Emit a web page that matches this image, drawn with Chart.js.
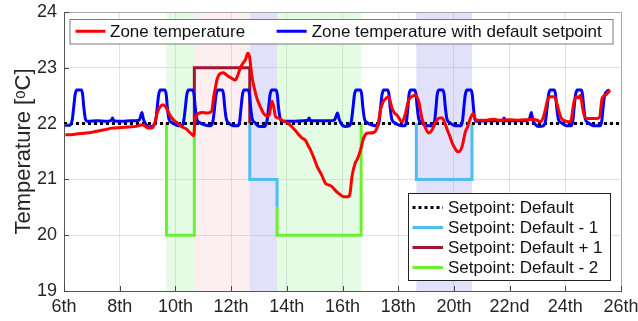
<!DOCTYPE html>
<html>
<head>
<meta charset="utf-8">
<script src="https://cdn.jsdelivr.net/npm/chart.js@4.4.1/dist/chart.umd.min.js"></script>
<style>
  html, body { margin: 0; padding: 0; background: #fff; }
  #wrap { width: 638px; height: 321px; }
</style>
</head>
<body>
<div id="wrap"><canvas id="tempChart"></canvas></div>
<script>
// Ejes
const xTicks = [6, 8, 10, 12, 14, 16, 18, 20, 22, 24, 26];
const xTickLabels = ['6th', '8th', '10th', '12th', '14th', '16th', '18th', '20th', '22nd', '24th', '26th'];
const yTicks = [19, 20, 21, 22, 23, 24];

// Periodos con consigna modificada [inicio, fin] (día)
const minus2Periods = [[9.68, 10.68], [13.65, 16.67]];
const plus1Periods = [[10.68, 12.67]];
const minus1Periods = [[12.67, 13.65], [18.65, 20.65]];

// Temperatura de zona [día, °C]
const zoneTemp = [
  [6.05, 21.8], [6.2, 21.8], [6.5, 21.82], [6.8, 21.83], [7.14, 21.86], [7.45, 21.89], [7.74, 21.92],
  [8.05, 21.93], [8.34, 21.94], [8.6, 21.95], [8.81, 21.98], [8.9, 21.96], [9.0, 21.92], [9.17, 21.92],
  [9.28, 22.05], [9.35, 22.2], [9.45, 22.3], [9.55, 22.34], [9.65, 22.3], [9.77, 22.18], [9.87, 22.1],
  [9.95, 22.06], [10.1, 22.0], [10.25, 21.94], [10.4, 21.9], [10.5, 21.85], [10.61, 21.8], [10.66, 21.78],
  [10.7, 22.05], [10.78, 22.16], [10.96, 22.2], [11.14, 22.19], [11.3, 22.22], [11.38, 22.5], [11.44, 22.65],
  [11.5, 22.8], [11.62, 22.9], [11.73, 22.91], [11.86, 22.86], [12.0, 22.82], [12.15, 22.78], [12.25, 22.88],
  [12.33, 23.0], [12.45, 23.1], [12.51, 23.14], [12.6, 23.26], [12.66, 23.2], [12.75, 22.84], [12.85, 22.6],
  [12.93, 22.45], [13.05, 22.3], [13.17, 22.18], [13.3, 22.14], [13.37, 22.15], [13.42, 22.3], [13.47, 22.4],
  [13.53, 22.3], [13.6, 22.12], [13.7, 22.1], [13.83, 22.06], [14.0, 22.02], [14.13, 21.97], [14.3, 21.88],
  [14.43, 21.8], [14.55, 21.74], [14.67, 21.7], [14.77, 21.6], [14.85, 21.53], [15.0, 21.35], [15.09, 21.23],
  [15.25, 21.08], [15.39, 20.93], [15.5, 20.9], [15.6, 20.88], [15.75, 20.8], [15.86, 20.75], [16.04, 20.69],
  [16.2, 20.69], [16.27, 20.75], [16.34, 21.05], [16.46, 21.3], [16.52, 21.35], [16.6, 21.45], [16.66, 21.55],
  [16.76, 21.74], [16.85, 21.82], [16.94, 21.83], [17.12, 21.84], [17.24, 21.92], [17.3, 22.05], [17.36, 22.24],
  [17.47, 22.4], [17.6, 22.47], [17.66, 22.48], [17.78, 22.27], [17.9, 22.17], [17.96, 22.15], [18.14, 22.03],
  [18.26, 22.18], [18.35, 22.38], [18.41, 22.45], [18.55, 22.5], [18.62, 22.51], [18.7, 22.45], [18.74, 22.39],
  [18.85, 22.1], [18.92, 22.0], [19.0, 21.9], [19.1, 21.83], [19.22, 21.89], [19.3, 21.98], [19.4, 22.07],
  [19.5, 22.1], [19.58, 22.1], [19.68, 22.0], [19.76, 21.89], [19.85, 21.78], [19.94, 21.65], [20.05, 21.55],
  [20.12, 21.5], [20.2, 21.5], [20.3, 21.6], [20.41, 21.85], [20.5, 21.95], [20.59, 22.09], [20.69, 22.18],
  [20.75, 22.1], [20.83, 22.06], [21.1, 22.06], [21.43, 22.08], [21.6, 22.06], [22.0, 22.07], [22.3, 22.06],
  [22.6, 22.07], [22.8, 22.08], [22.99, 22.06], [23.1, 22.03], [23.2, 22.1], [23.28, 22.24], [23.36, 22.42],
  [23.46, 22.48], [23.58, 22.48], [23.64, 22.46], [23.72, 22.32], [23.76, 22.24], [23.85, 22.1], [23.94, 22.06],
  [24.18, 22.03], [24.24, 22.15], [24.3, 22.36], [24.36, 22.46], [24.42, 22.48], [24.48, 22.46], [24.54, 22.51],
  [24.6, 22.36], [24.66, 22.18], [24.78, 22.09], [25.08, 22.09], [25.24, 22.12], [25.28, 22.3], [25.32, 22.45],
  [25.44, 22.51], [25.56, 22.57], [25.6, 22.6]
];

// Temperatura de zona con consigna por defecto [día, °C]
const zoneTempDefault = [
  [6.03, 21.97], [6.2, 21.97], [6.29, 22.05], [6.35, 22.3], [6.4, 22.52], [6.46, 22.6], [6.62, 22.6], [6.67, 22.52], [6.71, 22.3], [6.77, 22.08], [6.85, 22.04],
  [7.2, 22.05], [7.5, 22.04], [7.7, 22.06], [7.74, 22.1], [7.79, 22.05], [8.1, 22.04], [8.4, 22.05], [8.7, 22.06],
  [8.76, 22.15], [8.8, 22.2], [8.85, 22.08], [8.95, 21.98], [9.05, 21.94], [9.2, 21.96],
  [9.29, 22.05], [9.35, 22.3], [9.4, 22.52], [9.46, 22.6], [9.62, 22.6], [9.67, 22.52], [9.71, 22.3], [9.77, 22.08], [9.87, 22.02],
  [10.05, 21.97], [10.22, 21.96], [10.3, 22.05], [10.36, 22.3], [10.41, 22.52], [10.47, 22.6], [10.62, 22.6], [10.67, 22.52], [10.71, 22.3], [10.77, 22.08], [10.86, 22.02],
  [11.1, 21.97], [11.26, 21.96], [11.35, 22.05], [11.41, 22.3], [11.46, 22.52], [11.52, 22.6], [11.68, 22.6], [11.73, 22.52], [11.77, 22.3], [11.83, 22.08], [11.92, 22.01],
  [12.06, 21.96], [12.24, 21.96], [12.31, 22.05], [12.36, 22.3], [12.41, 22.52], [12.46, 22.6], [12.61, 22.6], [12.66, 22.52], [12.7, 22.3], [12.76, 22.08], [12.85, 22.02],
  [13.0, 21.95], [13.2, 21.95], [13.29, 22.05], [13.35, 22.3], [13.4, 22.52], [13.46, 22.6], [13.61, 22.6], [13.66, 22.52], [13.7, 22.3], [13.77, 22.08], [13.86, 22.04],
  [14.2, 22.04], [14.6, 22.05], [14.76, 22.06], [14.8, 22.1], [14.85, 22.05], [15.2, 22.05], [15.55, 22.05], [15.72, 22.07],
  [15.78, 22.15], [15.82, 22.19], [15.88, 22.08], [15.98, 21.98], [16.1, 21.95], [16.24, 21.96],
  [16.32, 22.05], [16.38, 22.3], [16.43, 22.52], [16.49, 22.6], [16.64, 22.6], [16.69, 22.52], [16.73, 22.3], [16.79, 22.08], [16.88, 22.02],
  [17.08, 21.97], [17.25, 21.96], [17.32, 22.05], [17.37, 22.3], [17.42, 22.52], [17.48, 22.6], [17.62, 22.6], [17.67, 22.52], [17.71, 22.3], [17.77, 22.08], [17.86, 22.02],
  [18.05, 21.97], [18.23, 21.96], [18.3, 22.05], [18.35, 22.3], [18.39, 22.52], [18.45, 22.6], [18.59, 22.6], [18.64, 22.52], [18.68, 22.3], [18.74, 22.08], [18.83, 22.02],
  [19.05, 21.96], [19.24, 21.96], [19.31, 22.05], [19.36, 22.3], [19.4, 22.52], [19.46, 22.6], [19.6, 22.6], [19.65, 22.52], [19.69, 22.3], [19.75, 22.08], [19.84, 22.02],
  [20.05, 21.96], [20.24, 21.96], [20.31, 22.05], [20.36, 22.3], [20.41, 22.52], [20.47, 22.6], [20.61, 22.6], [20.66, 22.52], [20.7, 22.3], [20.75, 22.08], [20.83, 22.04],
  [21.2, 22.05], [21.5, 22.05], [21.76, 22.06], [21.8, 22.1], [21.85, 22.05], [22.2, 22.05], [22.5, 22.05], [22.7, 22.07],
  [22.75, 22.15], [22.78, 22.2], [22.83, 22.07], [22.93, 21.98], [23.05, 21.95], [23.21, 21.96],
  [23.29, 22.05], [23.35, 22.3], [23.4, 22.52], [23.46, 22.6], [23.6, 22.6], [23.65, 22.52], [23.69, 22.3], [23.75, 22.08], [23.84, 22.02],
  [24.05, 21.96], [24.21, 21.96], [24.27, 22.05], [24.32, 22.3], [24.37, 22.52], [24.43, 22.6], [24.57, 22.6], [24.62, 22.52], [24.66, 22.3], [24.72, 22.08], [24.81, 22.02],
  [25.05, 21.96], [25.24, 21.96], [25.31, 22.05], [25.36, 22.3], [25.41, 22.5], [25.5, 22.58], [25.6, 22.6]
];

// Consignas (tramos escalonados) [día, °C]
const setpointDefault = [[6, 22], [26, 22]];
const setpointMinus1A = [[12.67, 22], [12.67, 21], [13.65, 21], [13.65, 20.5]];
const setpointMinus1B = [[18.65, 22], [18.65, 21], [20.65, 21], [20.65, 22]];
const setpointPlus1 = [[10.68, 22], [10.68, 23], [12.67, 23], [12.67, 22]];
const setpointMinus2A = [[9.68, 22], [9.68, 20], [10.68, 20], [10.68, 22]];
const setpointMinus2B = [[13.65, 20.5], [13.65, 20], [16.67, 20], [16.67, 22]];

const COLORS = {
  zone: '#ff0000',
  zoneDefault: '#0000ff',
  spDefault: '#000000',
  spMinus1: '#4dbeee',
  spPlus1: '#a2142f',
  spMinus2: '#6cf032'
};
const SHADES = {
  minus2: 'rgba(90,235,90,0.17)',
  plus1: 'rgba(235,100,100,0.10)',
  minus1: 'rgba(90,90,235,0.18)'
};

const FONT = '"Liberation Sans", Arial, Helvetica, sans-serif';
Chart.defaults.font.family = FONT;
Chart.defaults.color = '#262626';

const toXY = arr => arr.map(p => ({ x: p[0], y: p[1] }));

function stepDataset(pts, color) {
  return {
    data: toXY(pts),
    borderColor: color,
    borderWidth: 3,
    pointRadius: 0,
    tension: 0,
    borderJoinStyle: 'miter',
    borderCapStyle: 'butt'
  };
}

const datasets = [
  {
    label: 'Zone temperature',
    data: toXY(zoneTemp),
    borderColor: COLORS.zone,
    borderWidth: 3,
    pointRadius: 0,
    cubicInterpolationMode: 'monotone'
  },
  {
    label: 'Zone temperature with default setpoint',
    data: toXY(zoneTempDefault),
    borderColor: COLORS.zoneDefault,
    borderWidth: 3,
    pointRadius: 0,
    cubicInterpolationMode: 'monotone'
  },
  {
    label: 'Setpoint: Default',
    data: toXY(setpointDefault),
    borderColor: COLORS.spDefault,
    borderWidth: 3,
    borderDash: [3, 3],
    borderCapStyle: 'butt',
    pointRadius: 0
  },
  stepDataset(setpointMinus1A, COLORS.spMinus1),
  stepDataset(setpointMinus1B, COLORS.spMinus1),
  stepDataset(setpointPlus1, COLORS.spPlus1),
  stepDataset(setpointMinus2A, COLORS.spMinus2),
  stepDataset(setpointMinus2B, COLORS.spMinus2)
];

// Sombreado de los periodos
const shadePlugin = {
  id: 'shade',
  beforeDatasetsDraw(chart) {
    const { ctx, chartArea: ca, scales: { x } } = chart;
    const groups = [[minus2Periods, SHADES.minus2], [plus1Periods, SHADES.plus1], [minus1Periods, SHADES.minus1]];
    ctx.save();
    groups.forEach(([periods, color]) => {
      ctx.fillStyle = color;
      periods.forEach(([a, b]) => {
        const x0 = x.getPixelForValue(a);
        const x1 = x.getPixelForValue(b);
        ctx.fillRect(x0, ca.top, x1 - x0, ca.bottom - ca.top);
      });
    });
    ctx.restore();
  }
};

function legendSample(ctx, x0, x1, y, color, dash) {
  ctx.save();
  ctx.strokeStyle = color;
  ctx.lineWidth = 3;
  ctx.lineCap = 'butt';
  ctx.setLineDash(dash || []);
  ctx.beginPath();
  ctx.moveTo(x0, y);
  ctx.lineTo(x1, y);
  ctx.stroke();
  ctx.restore();
}

// Marco, marcas de eje y leyendas
const framePlugin = {
  id: 'frame',
  afterDraw(chart) {
    const { ctx, chartArea: ca, scales: { x, y } } = chart;
    ctx.save();
    // caja
    ctx.strokeStyle = '#a8a8a8';
    ctx.lineWidth = 1;
    ctx.beginPath();
    ctx.moveTo(ca.left, ca.top + 0.5);
    ctx.lineTo(ca.right + 0.5, ca.top + 0.5);
    ctx.lineTo(ca.right + 0.5, ca.bottom);
    ctx.stroke();
    // marcas hacia dentro
    ctx.strokeStyle = '#444';
    ctx.beginPath();
    xTicks.forEach(v => {
      const px = Math.round(x.getPixelForValue(v)) + 0.5;
      ctx.moveTo(px, ca.bottom);
      ctx.lineTo(px, ca.bottom - 5);
    });
    yTicks.forEach(v => {
      const py = Math.round(y.getPixelForValue(v)) + 0.5;
      ctx.moveTo(ca.left, py);
      ctx.lineTo(ca.left + 5, py);
    });
    ctx.stroke();

    ctx.font = '17px ' + FONT;
    ctx.textBaseline = 'middle';
    ctx.textAlign = 'left';

    // leyenda superior
    const tb = { x: ca.left + 5.5, y: ca.top + 7, w: 543, h: 24.5 };
    ctx.fillStyle = '#fff';
    ctx.fillRect(tb.x, tb.y, tb.w, tb.h);
    ctx.strokeStyle = '#7a7a7a';
    ctx.strokeRect(tb.x + 0.5, tb.y + 0.5, tb.w, tb.h);
    const ty = tb.y + tb.h / 2;
    let lx = tb.x + 6;
    legendSample(ctx, lx, lx + 30, ty, COLORS.zone);
    ctx.fillStyle = '#111';
    ctx.fillText(datasets[0].label, lx + 34.5, ty + 1);
    lx = lx + 34.5 + ctx.measureText(datasets[0].label).width + 31.5;
    legendSample(ctx, lx, lx + 30, ty, COLORS.zoneDefault);
    ctx.fillText(datasets[1].label, lx + 35, ty + 1);

    // leyenda inferior derecha
    const items = [
      ['Setpoint: Default', COLORS.spDefault, [3, 3]],
      ['Setpoint: Default - 1', COLORS.spMinus1],
      ['Setpoint: Default + 1', COLORS.spPlus1],
      ['Setpoint: Default - 2', COLORS.spMinus2]
    ];
    const bb = { w: 202, h: 87 };
    bb.x = ca.right - 11 - bb.w;
    bb.y = ca.bottom - 11 - bb.h;
    ctx.fillStyle = '#fff';
    ctx.fillRect(bb.x, bb.y, bb.w, bb.h);
    ctx.strokeStyle = '#222';
    ctx.strokeRect(bb.x + 0.5, bb.y + 0.5, bb.w, bb.h);
    items.forEach(([label, color, dash], i) => {
      const ry = bb.y + 14.5 + i * 20;
      legendSample(ctx, bb.x + 4.5, bb.x + 35, ry, color, dash);
      ctx.fillStyle = '#111';
      ctx.fillText(label, bb.x + 40, ry + 1);
    });
    ctx.restore();
  }
};

new Chart(document.getElementById('tempChart').getContext('2d'), {
  type: 'line',
  data: { datasets },
  options: {
    responsive: true,
    maintainAspectRatio: false,
    animation: false,
    layout: { padding: { top: 12, right: 17, bottom: 0, left: 0 } },
    plugins: {
      legend: { display: false },
      tooltip: { enabled: false }
    },
    scales: {
      x: {
        type: 'linear',
        min: 6,
        max: 26,
        ticks: {
          stepSize: 2,
          padding: 5,
          maxRotation: 0,
          font: { size: 18 },
          callback: v => xTickLabels[xTicks.indexOf(v)]
        },
        grid: { color: 'rgba(0,0,0,0.11)', drawTicks: false },
        border: { color: '#555', width: 1 },
        afterFit(s) { s.height = 30; s.paddingLeft = 0; s.paddingRight = 0; }
      },
      y: {
        min: 19,
        max: 24,
        ticks: { stepSize: 1, padding: 7, font: { size: 18 } },
        grid: { color: 'rgba(0,0,0,0.11)', drawTicks: false },
        border: { color: '#555', width: 1 },
        title: {
          display: true,
          text: 'Temperature [ᵒC]',
          font: { size: 22 },
          color: '#262626',
          padding: { top: 11, bottom: 0 }
        },
        afterFit(s) { s.width = 64; s.paddingTop = 0; s.paddingBottom = 0; }
      }
    }
  },
  plugins: [shadePlugin, framePlugin]
});
</script>
</body>
</html>
